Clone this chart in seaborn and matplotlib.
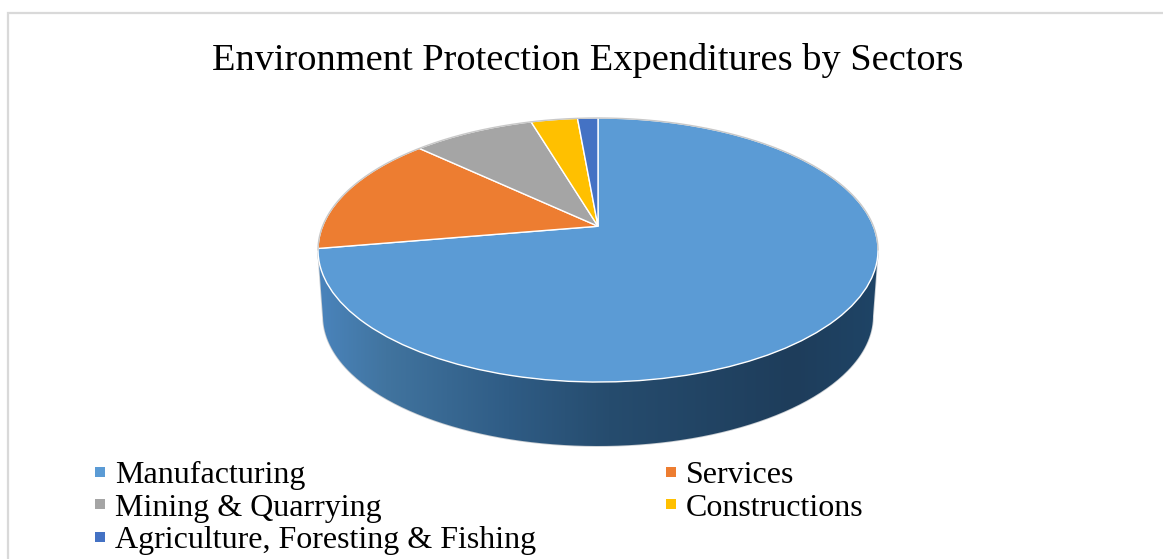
import numpy as np
import matplotlib
matplotlib.use("Agg")
import matplotlib.pyplot as plt
import seaborn as sns
from matplotlib.colors import LinearSegmentedColormap
from matplotlib.lines import Line2D
from matplotlib.patches import PathPatch
from matplotlib.path import Path
from matplotlib.transforms import Affine2D, Transform

TITLE = "Environment Protection Expenditures by Sectors"
sectors = ["Manufacturing", "Services", "Mining & Quarrying", "Constructions",
           "Agriculture, Foresting & Fishing"]
shares = [72.3, 14.7, 8.4, 3.2, 1.4]
sector_colors = ["#5b9bd5", "#ed7d31", "#a5a5a5", "#ffc000", "#4472c4"]

W, H = 1163, 559
TOP_CX, TOP_CY, TOP_RX, TOP_RY = 598, 250, 280, 132
BOT_CY, BOT_RX, BOT_RY = 316, 275, 130
TILT = 0.18  # how far the pie centre sits towards the back rim


class TiltTransform(Transform):
    """Projective map of the unit disc onto itself, used to tilt the pie."""
    input_dims = output_dims = 2

    def __init__(self, tilt):
        super().__init__()
        self.tilt = tilt

    def transform_non_affine(self, xy):
        xy = np.asarray(xy, dtype=float)
        u, v = xy[:, 0], xy[:, 1]
        a = self.tilt
        d = 1 + a * v
        return np.column_stack([u * np.sqrt(1 - a * a) / d, (v + a) / d])


sns.set_theme(style="white")
plt.rcParams["font.family"] = ["Liberation Serif", "DejaVu Serif"]
palette = sns.color_palette(sector_colors)

fig = plt.figure(figsize=(W / 100, H / 100), dpi=100, facecolor="white")
ax = fig.add_axes([0, 0, 1, 1])

wedges, _ = ax.pie(shares, colors=palette, startangle=90, counterclock=False,
                   wedgeprops=dict(edgecolor="white", linewidth=1.0))
ax.set(xlim=(0, W), ylim=(H, 0), aspect="auto")
ax.set_axis_off()

# Chart-area border: only the left and top edges fall inside the canvas
ax.plot([8, 8, W], [H, 13, 13], color="#d9d9d9", lw=1.6, zorder=1,
        solid_joinstyle="miter")

# Side wall: lower half of the rim joined to the smaller base ellipse
t = np.linspace(0, np.pi, 240)
top_arc = np.column_stack([TOP_CX + TOP_RX * np.cos(t), TOP_CY + TOP_RY * np.sin(t)])
base_arc = np.column_stack([TOP_CX + BOT_RX * np.cos(t), BOT_CY + BOT_RY * np.sin(t)])
wall_xy = np.vstack([top_arc, base_arc[::-1], top_arc[:1]])
wall = PathPatch(Path(wall_xy), facecolor="none", edgecolor="#c9ced3", lw=1.2,
                 transform=ax.transData, zorder=2)
ax.add_patch(wall)

wall_cmap = LinearSegmentedColormap.from_list("wall", [
    (0.00, "#4a84bc"), (0.12, "#41749f"), (0.34, "#2f5c85"), (0.52, "#264c6e"),
    (0.85, "#1e3d5b"), (1.00, "#1f4466")])
shade = np.linspace(0, 1, 256)[None, :]
img = ax.imshow(shade, cmap=wall_cmap, aspect="auto", zorder=2.5,
                extent=(TOP_CX - TOP_RX, TOP_CX + TOP_RX, BOT_CY + BOT_RY, TOP_CY))
img.set_clip_path(PathPatch(Path(wall_xy), transform=ax.transData))
ax.set(xlim=(0, W), ylim=(H, 0))

# Top face: the pie wedges, carried through the tilt and into canvas coordinates
to_canvas = (TiltTransform(TILT)
             + Affine2D().scale(TOP_RX, -TOP_RY).translate(TOP_CX, TOP_CY)
             + ax.transData)
for w in wedges:
    w.set_transform(to_canvas)
    w.set_zorder(3)
    w.set_clip_on(False)

# Thin grey highlight along the back rim
back = np.linspace(np.pi, 2 * np.pi, 240)
ax.plot(TOP_CX + TOP_RX * np.cos(back), TOP_CY + TOP_RY * np.sin(back),
        color="#c8c8c8", lw=1.0, zorder=3.5)

ax.text(588, 60, TITLE, ha="center", va="center", fontsize=27.6, color="black")

# Legend columns are filled top-down, so list the left column first
order = [0, 2, 4, 1, 3]
handles = [Line2D([], [], linestyle="none", marker="s", markersize=7.6,
                  markeredgewidth=0, color=palette[i]) for i in order]
ax.legend(handles, [sectors[i] for i in order], ncol=2, frameon=False,
          loc="upper left", bbox_to_anchor=(90 / W, 1 - 461 / H),
          fontsize=23, labelspacing=0.09, handlelength=0.6, handletextpad=0.19,
          columnspacing=3.9, borderpad=0, borderaxespad=0, labelcolor="black")

fig.savefig("out.png", dpi=100)
